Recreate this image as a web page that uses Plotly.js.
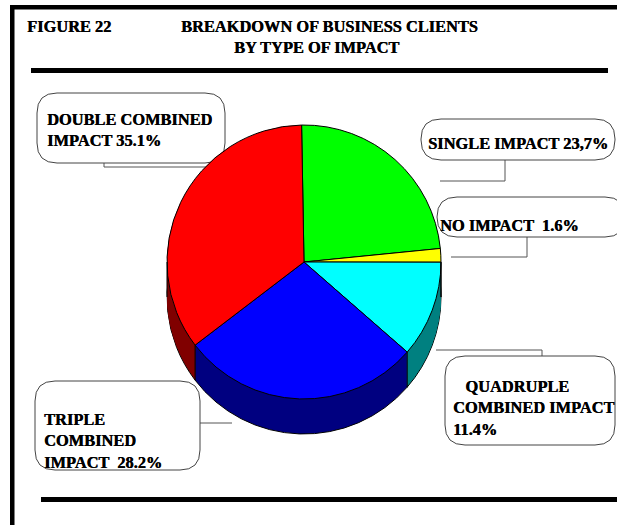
<!DOCTYPE html>
<html><head><meta charset="utf-8">
<script src="https://cdn.plot.ly/plotly-3.0.0.min.js"></script>
<style>html,body{margin:0;padding:0;background:#fff;overflow:hidden}</style>
</head><body><div id="chart" style="width:617px;height:525px"></div>
<script>
const categories = ["SINGLE IMPACT","NO IMPACT","QUADRUPLE COMBINED IMPACT","TRIPLE COMBINED IMPACT","DOUBLE COMBINED IMPACT"];
const values = [23.7,1.6,11.4,28.2,35.1];
const topColors = ["#00ff00","#ffff00","#00ffff","#0000ff","#ff0000"];
const sideColors = ["#008000","#808000","#008080","#000080","#800000"];
const W=617,H=525,cx=304,cy=262,r=137,depth=35,rotation=-1;
const fx=x=>x/W, fy=y=>1-y/H;
function pie(dy,colors,lineW){
  return {type:'pie',labels:categories,values:values,sort:false,direction:'clockwise',rotation:rotation,
    textinfo:'none',hoverinfo:'label+percent',showlegend:false,
    domain:{x:[fx(cx-r),fx(cx+r)],y:[fy(cy+r+dy),fy(cy-r+dy)]},
    marker:{colors:colors,line:{color:'#000',width:lineW}}};
}
const traces=[pie(depth,sideColors,1)];
for(let d=depth-1;d>=1;d--)traces.push(pie(d,sideColors,0));
traces.push(pie(0,topColors,1));

const ink='#000',wire='#555';
const rect=(x0,y0,x1,y1)=>({type:'rect',xref:'paper',yref:'paper',x0:fx(x0),x1:fx(x1),y0:fy(y0),y1:fy(y1),fillcolor:ink,line:{width:0},layer:'below'});
const poly=(pts,layer)=>({type:'path',xref:'paper',yref:'paper',layer:layer||'below',line:{color:wire,width:1},
  path:'M'+pts.map(p=>fx(p[0])+' '+fy(p[1])).join('L')});
function box(x0,y0,x1,y1,layer){
  const rd=20;
  const a=(x,y)=>fx(x)+' '+fy(y);
  return {type:'path',xref:'paper',yref:'paper',layer:layer||'below',fillcolor:'#fff',line:{color:'#444',width:1},
    path:`M${a(x0+rd,y0)}L${a(x1-rd,y0)}Q${a(x1,y0)} ${a(x1,y0+rd)}L${a(x1,y1-rd)}Q${a(x1,y1)} ${a(x1-rd,y1)}L${a(x0+rd,y1)}Q${a(x0,y1)} ${a(x0,y1-rd)}L${a(x0,y0+rd)}Q${a(x0,y0)} ${a(x0+rd,y0)}Z`};
}
const total=values.reduce((a,b)=>a+b,0);
let acc=0;const edges=[];
values.forEach(v=>{acc+=v;const t=(rotation+acc/total*360)*Math.PI/180;const x=cx+r*Math.sin(t),y=cy-r*Math.cos(t);
  if(Math.cos(t)<0)edges.push({type:'line',xref:'paper',yref:'paper',x0:fx(x),x1:fx(x),y0:fy(y),y1:fy(y+depth),line:{color:'#000',width:1},layer:'above'});});
[cx-r,cx+r].forEach(x=>edges.push({type:'line',xref:'paper',yref:'paper',x0:fx(x),x1:fx(x),y0:fy(cy),y1:fy(cy+depth),line:{color:'#000',width:1},layer:'above'}));

const shapes=[
  rect(10,5,617,9.5),rect(10,5,14.5,525),rect(31,68,608,73),rect(41,497,617,502),
  poly([[104,163],[104,167],[212,167]]),
  poly([[505,160],[505,181],[440,181]]),
  poly([[527,237],[527,257],[451,257]]),
  poly([[542,356],[542,350],[436,350]]),
  poly([[200,423],[232,423]]),
  box(37,93,225,163),box(421,119,615,160),box(445,356,615,445),box(35,381,200,470),
  box(437,197,625,237,'above')
].concat(edges);

const font={family:'"Liberation Serif",serif',size:16.4,color:'#000',shadow:'0.4px 0 0 #000'};
const note=(x,y,text,align,xa)=>({xref:'paper',yref:'paper',x:fx(x),y:fy(y),text:text,showarrow:false,align:align||'left',xanchor:xa||'left',yanchor:'middle',font:font});
const annotations=[
  note(25,27,'<b>FIGURE 22</b>'),
  note(329,27,'<b>BREAKDOWN OF BUSINESS CLIENTS</b>','center','center'),
  note(316,47,'<b>BY TYPE OF IMPACT</b>','center','center'),
  note(45,130,'<b>DOUBLE COMBINED<br>IMPACT 35.1%</b>'),
  note(426,143,'<b>SINGLE IMPACT 23,7%</b>'),
  note(438,225,'<b>NO IMPACT  1.6%</b>'),
  note(451,408,'<b>   QUADRUPLE<br>COMBINED IMPACT<br>11.4%</b>'),
  note(42,441,'<b>TRIPLE<br>COMBINED<br>IMPACT  28.2%</b>')
];
Plotly.newPlot('chart',traces,{width:W,height:H,margin:{l:0,r:0,t:0,b:0},paper_bgcolor:'#fff',shapes,annotations},{displayModeBar:false,staticPlot:true});
</script></body></html>
